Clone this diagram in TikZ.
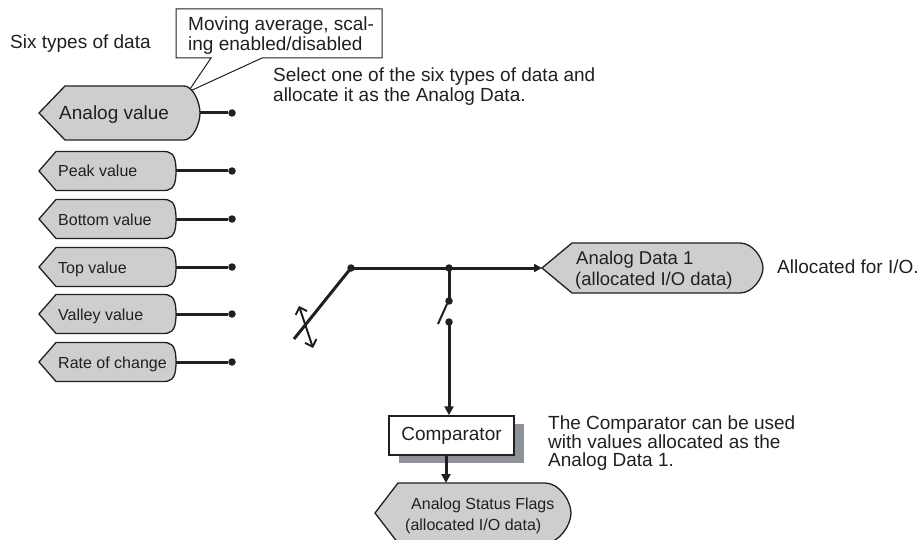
\documentclass[tikz,border=0pt]{standalone}
\usepackage{fontspec}
\setmainfont{Liberation Sans}
\usetikzlibrary{arrows.meta,shadows}
\definecolor{ink}{HTML}{231F20}
\definecolor{shapegray}{HTML}{CDCED0}
\definecolor{shadowgray}{HTML}{8E939A}
\newcommand\dispshp[6]{%
  \filldraw[dshape] (#1,{(#5+#6)/2}) -- (#2,#5) -- (#3,#5)
    .. controls ({#3+0.55*(#4-#3)},#5) and (#4,{#5+0.3*(#6-#5)}) .. (#4,{(#5+#6)/2})
    .. controls (#4,{#6-0.3*(#6-#5)}) and ({#3+0.55*(#4-#3)},#6) .. (#3,#6)
    -- (#2,#6) -- cycle;}
\tikzset{
  bigtxt/.style={font=\fontsize{19}{21}\selectfont, inner sep=0pt, anchor=base west, text=ink},
  midtxt/.style={font=\fontsize{18.5}{21}\selectfont, inner sep=0pt, anchor=base west, text=ink},
  smalltxt/.style={font=\fontsize{16}{19}\selectfont, inner sep=0pt, anchor=base west, text=ink},
  dshape/.style={fill=shapegray, draw=ink, line width=1.3pt},
  wire/.style={draw=ink, line width=3pt},
  thinwire/.style={draw=ink, line width=2pt},
  dot/.style={circle, fill=ink, inner sep=0pt, minimum size=7.5pt},
  arr/.style={draw=ink, line width=3pt, -{Triangle[length=9pt,width=9pt]}},
  busarr/.style={draw=ink, line width=3pt, -{Triangle[length=8pt,width=8pt]}},
  callout/.style={draw=ink, fill=white, line width=1pt, line join=miter},
}
\begin{document}
\begin{tikzpicture}[x=1pt,y=-1pt]
\useasboundingbox (0,0) rectangle (923,540);

% labels top left
\node[bigtxt] (six) at (10,49) {Six types of data};
\filldraw[callout] (176,9) -- (382,9) -- (382,58) -- (262,58) -- (188,92) -- (211,58) -- (176,58) -- cycle;
\node[bigtxt] (mov1) at (188,31) {Moving average, scal-};
\node[bigtxt] (mov2) at (188,51) {ing enabled/disabled};
\node[bigtxt] (sel1) at (273,82) {Select one of the six types of data and};
\node[bigtxt] (sel2) at (273,102) {allocate it as the Analog Data.};

% data sources
\dispshp{39}{65}{184}{200}{86}{140}
\node[bigtxt] (av) at (59,120) {Analog value};
\coordinate (avR) at (200,113);
\node[dot] (d0) at (232,113) {};
\draw[wire] (avR) -- (d0);

\foreach \c/\t/\n in {171/Peak value/1, 219/Bottom value/2, 267/Top value/3, 314/Valley value/4, 362/Rate of change/5}{
  \dispshp{39}{56}{162}{176}{\c-19.5}{\c+19.5}
  \node[smalltxt] (t\n) at (58,\c+6) {\t};
  \coordinate (r\n) at (176,\c);
  \node[dot] (d\n) at (232,\c) {};
  \draw[wire] (r\n) -- (d\n);
}

% selector switch
\node[dot] (j0) at (351,268) {};
\coordinate (armEnd) at (294,339);
\draw[wire] (j0.center) -- (armEnd);
\coordinate (rotA) at (299,306);
\coordinate (rotB) at (313,348);
\draw[thinwire, {Straight Barb[length=6pt,width=12pt]}-{Straight Barb[length=6pt,width=12pt]}] (rotA) -- (rotB);

% bus to Analog Data 1
\dispshp{542}{572}{740}{763}{243}{293}
\coordinate (adTip) at (542,268);
\node[midtxt] (ad1) at (576,264) {Analog Data 1};
\node[midtxt] (ad2) at (575,285) {(allocated I/O data)};
\node[dot] (j1) at (449,268) {};
\draw[busarr] (j0.center) -- (adTip);
\node[bigtxt] (alloc) at (777,273) {Allocated for I/O.};

% switch to comparator
\node[dot] (s1) at (449,301) {};
\node[dot] (s2) at (449,322) {};
\draw[wire] (j1.center) -- (s1.center);
\coordinate (bladeA) at (438,324);
\coordinate (bladeB) at (447,304);
\draw[thinwire] (bladeA) -- (bladeB);

\node[draw=ink, fill=white, line width=1.5pt, minimum width=125pt, minimum height=39pt, inner sep=0pt,
      font=\fontsize{19}{21}\selectfont, text=ink,
      drop shadow={shadow xshift=10pt, shadow yshift=-8pt, fill=shadowgray, opacity=1}]
      (cmp) at (451.5,435.5) {Comparator};
\draw[arr] (s2.center) -- (s2.center |- cmp.north);

\node[bigtxt] (cn1) at (548,429) {The Comparator can be used};
\node[bigtxt] (cn2) at (548,448) {with values allocated as the};
\node[bigtxt] (cn3) at (548,466) {Analog Data 1.};

% status flags
\dispshp{375}{398}{545}{571}{483}{543}
\coordinate (sfTop) at (446,483);
\draw[arr] (cmp.south -| sfTop) -- (sfTop);
\node[smalltxt] (sf1) at (411,509) {Analog Status Flags};
\node[smalltxt] (sf2) at (405,530) {(allocated I/O data)};
\end{tikzpicture}
\end{document}
